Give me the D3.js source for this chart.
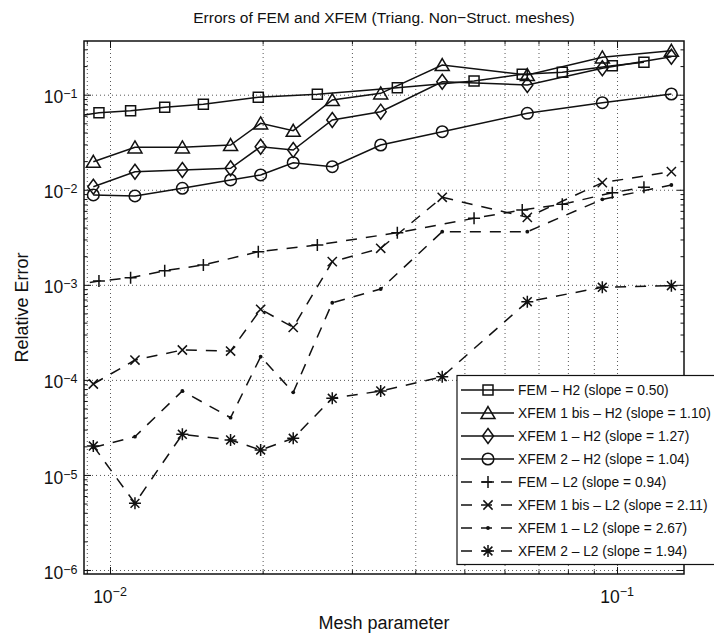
<!DOCTYPE html>
<html>
<head>
<meta charset="UTF-8">
<title>Errors of FEM and XFEM</title>
<script src="https://d3js.org/d3.v7.min.js"></script>
<style>
  body { margin: 0; background: #fff; }
  text { font-family: "Liberation Sans", Arial, Helvetica, sans-serif; fill: #111; }
  .grid line { stroke: #444; stroke-width: 0.9; stroke-dasharray: 1,3; }
  .grid path, .tk path { display: none; }
  .tk line { stroke: #111; stroke-width: 1; }
</style>
</head>
<body>
<svg id="chart" width="714" height="636"></svg>
<script>

// mesh parameter h
var hFem  = [0.00834, 0.00951, 0.01098, 0.01282, 0.01528, 0.01961, 0.02564, 0.03687, 0.05224, 0.06502, 0.07799, 0.09788, 0.1130];
var hXfem = [0.00927, 0.01120, 0.01389, 0.01729, 0.01982, 0.02298, 0.02744, 0.03419, 0.04521, 0.06654, 0.09354, 0.1280];

// relative errors
var femH2     = [0.0580, 0.0646, 0.0679, 0.0737, 0.0793, 0.0939, 0.1010, 0.1185, 0.1393, 0.1639, 0.1720, 0.2019, 0.2192];
var xfem1bisH2 = [0.01973, 0.02797, 0.02797, 0.02957, 0.05002, 0.04181, 0.0879, 0.1034, 0.2053, 0.1612, 0.2474, 0.2903];
var xfem1H2   = [0.01077, 0.01549, 0.01614, 0.01681, 0.02838, 0.02620, 0.05417, 0.0663, 0.1370, 0.1265, 0.1895, 0.2510];
var xfem2H2   = [0.00881, 0.00860, 0.01036, 0.01267, 0.01430, 0.01926, 0.01748, 0.02957, 0.04081, 0.06372, 0.08236, 0.1017];
var femL2     = [0.000981, 0.001097, 0.001188, 0.001408, 0.001616, 0.002231, 0.002624, 0.003534, 0.005010, 0.006124, 0.007031, 0.009313, 0.01061];
var xfem1bisL2 = [9.05e-5, 1.618e-4, 2.062e-4, 2.012e-4, 5.527e-4, 3.573e-4, 1.751e-3, 2.422e-3, 8.33e-3, 5.13e-3, 0.01187, 0.01549];
var xfem1L2   = [1.944e-5, 2.526e-5, 7.64e-5, 4.00e-5, 1.753e-4, 7.40e-5, 6.48e-4, 9.04e-4, 3.62e-3, 3.62e-3, 7.93e-3, 0.01122];
var xfem2L2   = [2.015e-5, 5.03e-6, 2.676e-5, 2.332e-5, 1.830e-5, 2.429e-5, 6.40e-5, 7.64e-5, 1.080e-4, 6.64e-4, 9.42e-4, 9.79e-4];

var legendLabels = [
  "FEM \u2013 H2 (slope = 0.50)",
  "XFEM 1 bis \u2013 H2 (slope = 1.10)",
  "XFEM 1 \u2013 H2 (slope = 1.27)",
  "XFEM 2 \u2013 H2 (slope = 1.04)",
  "FEM \u2013 L2 (slope = 0.94)",
  "XFEM 1 bis \u2013 L2 (slope = 2.11)",
  "XFEM 1 \u2013 L2 (slope = 2.67)",
  "XFEM 2 \u2013 L2 (slope = 1.94)"
];

var xTickVals = [1e-2, 1e-1];
var xTickExps = ["\u22122", "\u22121"];
var yTickVals = [1e-6, 1e-5, 1e-4, 1e-3, 1e-2, 1e-1];
var yTickExps = ["\u22126", "\u22125", "\u22124", "\u22123", "\u22122", "\u22121"];

var series = [
  {h: hFem,  e: femH2,      m: "square",   dash: false},
  {h: hXfem, e: xfem1bisH2, m: "triangle", dash: false},
  {h: hXfem, e: xfem1H2,    m: "diamond",  dash: false},
  {h: hXfem, e: xfem2H2,    m: "circle",   dash: false},
  {h: hFem,  e: femL2,      m: "plus",     dash: true},
  {h: hXfem, e: xfem1bisL2, m: "cross",    dash: true},
  {h: hXfem, e: xfem1L2,    m: "dot",      dash: true},
  {h: hXfem, e: xfem2L2,    m: "star",     dash: true}
];

var L = 84, R = 684, T = 41, B = 574;
var W = R - L, H = B - T;

var svg = d3.select("#chart");

var x = d3.scaleLog().domain([Math.pow(10, -2.0513), Math.pow(10, -0.8679)]).range([L, R]);
var y = d3.scaleLog().domain([Math.pow(10, -6.0421), Math.pow(10, -0.4351)]).range([B, T]);

function isMajor(v) { var l = Math.log10(v); return Math.abs(l - Math.round(l)) < 1e-6; }

var xAll = x.ticks();
var yAll = y.ticks();
var xMinor = xAll.filter(function(v){ return !isMajor(v); });
var yMinor = yAll.filter(function(v){ return !isMajor(v); });

// grid
svg.append("g").attr("class", "grid")
  .attr("transform", "translate(0," + B + ")")
  .call(d3.axisBottom(x).tickValues(xAll).tickSize(-H).tickFormat(""));
svg.append("g").attr("class", "grid")
  .attr("transform", "translate(" + L + ",0)")
  .call(d3.axisLeft(y).tickValues(yTickVals).tickSize(-W).tickFormat(""));

// ticks on all four sides, pointing inward
function ticks(axisFn, pos, vals, size) {
  svg.append("g").attr("class", "tk")
    .attr("transform", pos)
    .call(axisFn.tickValues(vals).tickSize(size).tickFormat(""));
}
ticks(d3.axisBottom(x), "translate(0," + B + ")", xTickVals, -7);
ticks(d3.axisBottom(x), "translate(0," + B + ")", xMinor, -3.5);
ticks(d3.axisTop(x), "translate(0," + T + ")", xTickVals, -7);
ticks(d3.axisTop(x), "translate(0," + T + ")", xMinor, -3.5);
ticks(d3.axisLeft(y), "translate(" + L + ",0)", yTickVals, -7);
ticks(d3.axisLeft(y), "translate(" + L + ",0)", yMinor, -3.5);
ticks(d3.axisRight(y), "translate(" + R + ",0)", yTickVals, -7);
ticks(d3.axisRight(y), "translate(" + R + ",0)", yMinor, -3.5);

// tick labels
xTickVals.forEach(function(v, i) {
  var t = svg.append("text").attr("x", x(v)).attr("y", B + 28.7)
    .attr("text-anchor", "middle").style("font-size", "17.5px");
  t.append("tspan").text("10");
  t.append("tspan").attr("dy", -6.5).style("font-size", "12.5px").text(xTickExps[i]);
});
yTickVals.forEach(function(v, i) {
  var t = svg.append("text").attr("x", 77.5).attr("y", y(v) + 8.6)
    .attr("text-anchor", "end").style("font-size", "17.5px");
  t.append("tspan").text("10");
  t.append("tspan").attr("dy", -5).style("font-size", "12.5px").text(yTickExps[i]);
});

// clip
svg.append("clipPath").attr("id", "clip")
  .append("rect").attr("x", L).attr("y", T).attr("width", W).attr("height", H);

var markerPath = {
  square:   "M-5,-5H5V5H-5Z",
  triangle: "M0,-6.4L7,5.6L-7,5.6Z",
  diamond:  "M0,-7.5L5.5,0L0,7.5L-5.5,0Z",
  plus:     "M-6,0H6M0,-6V6",
  cross:    "M-4.6,-4.6L4.6,4.6M-4.6,4.6L4.6,-4.6",
  star:     "M-6,0H6M0,-6V6M-4.4,-4.4L4.4,4.4M-4.4,4.4L4.4,-4.4"
};

function drawMarker(g, type, cx, cy) {
  if (type === "circle") {
    g.append("circle").attr("cx", cx).attr("cy", cy).attr("r", 5.8)
      .attr("fill", "none").attr("stroke", "#111").attr("stroke-width", 1.5);
  } else if (type === "dot") {
    g.append("circle").attr("cx", cx).attr("cy", cy).attr("r", 1.9).attr("fill", "#111");
  } else {
    g.append("path").attr("d", markerPath[type]).attr("transform", "translate(" + cx + "," + cy + ")")
      .attr("fill", "none").attr("stroke", "#111").attr("stroke-width", 1.5);
  }
}

var plot = svg.append("g").attr("clip-path", "url(#clip)");
var line = d3.line().x(function(d){ return x(d[0]); }).y(function(d){ return y(d[1]); });

series.forEach(function(s) {
  var pts = s.h.map(function(h, i){ return [h, s.e[i]]; });
  plot.append("path").datum(pts).attr("d", line)
    .attr("fill", "none").attr("stroke", "#111").attr("stroke-width", 1.5)
    .attr("stroke-dasharray", s.dash ? "11,9" : null);
  pts.forEach(function(p){ drawMarker(plot, s.m, x(p[0]), y(p[1])); });
});

// axes box
svg.append("rect").attr("x", L).attr("y", T).attr("width", W).attr("height", H)
  .attr("fill", "none").attr("stroke", "#111").attr("stroke-width", 1.5);

// legend (box runs past the right edge of the figure, as in the original)
var lg = svg.append("g");
lg.append("rect").attr("x", 457).attr("y", 375.5).attr("width", 280).attr("height", 189)
  .attr("fill", "#fff").attr("stroke", "#111").attr("stroke-width", 1.2);
legendLabels.forEach(function(lab, i) {
  var ly = 390 + i * 23;
  var s = series[i];
  lg.append("line").attr("x1", 461).attr("x2", 514).attr("y1", ly).attr("y2", ly)
    .attr("stroke", "#111").attr("stroke-width", 1.5)
    .attr("stroke-dasharray", s.dash ? "11,9" : null);
  drawMarker(lg, s.m, 488, ly);
  lg.append("text").attr("x", 518).attr("y", ly + 5).style("font-size", "13.8px").text(lab);
});

// titles
svg.append("text").attr("x", (L + R) / 2).attr("y", 23.3).attr("text-anchor", "middle")
  .style("font-size", "15.5px").text("Errors of FEM and XFEM (Triang. Non\u2212Struct. meshes)");
svg.append("text").attr("x", (L + R) / 2).attr("y", 629.3).attr("text-anchor", "middle")
  .style("font-size", "18px").text("Mesh parameter");
svg.append("text").attr("transform", "translate(28.3," + ((T + B) / 2) + ") rotate(-90)")
  .attr("text-anchor", "middle").style("font-size", "18px").text("Relative Error");

</script>
</body>
</html>
